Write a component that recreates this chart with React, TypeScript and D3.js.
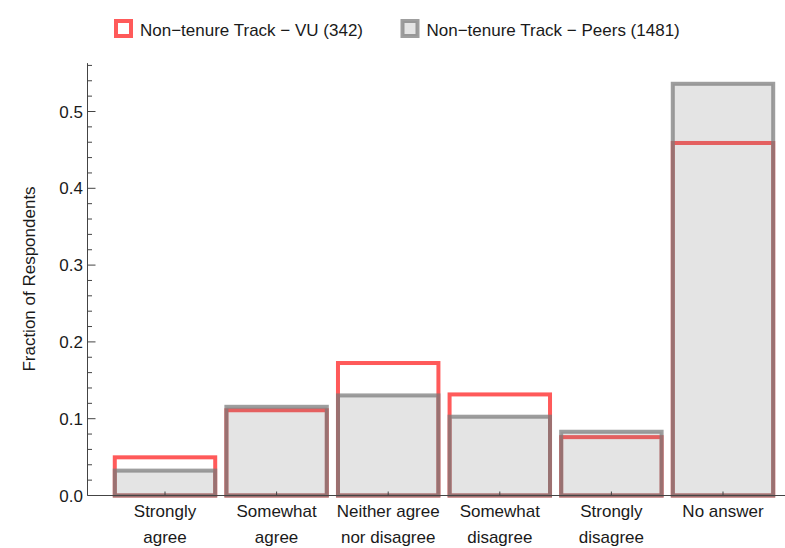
import React from "react";
import * as d3 from "d3";

const categories = [
  ["Strongly", "agree"],
  ["Somewhat", "agree"],
  ["Neither agree", "nor disagree"],
  ["Somewhat", "disagree"],
  ["Strongly", "disagree"],
  ["No answer"],
];
const vuValues = [0.0497, 0.111, 0.1725, 0.1316, 0.076, 0.459];
const peersValues = [0.0324, 0.1155, 0.1303, 0.1026, 0.083, 0.5361];
const seriesNames = ["Non\u2212tenure Track \u2212 VU (342)", "Non\u2212tenure Track \u2212 Peers (1481)"];
const majorTicks = [0, 0.1, 0.2, 0.3, 0.4, 0.5];
const yLabel = "Fraction of Respondents";

const W = 785;
const H = 548;
const FONT = "'Liberation Sans', Arial, sans-serif";
const FS = 17;

export default function App() {
  const keys = categories.map((c) => c.join(" "));
  const x = d3
    .scaleBand<string>()
    .domain(keys)
    .range([109.2, 778.8])
    .paddingInner(0.1)
    .paddingOuter(0.05);
  const y = d3.scaleLinear().domain([0, 0.5]).range([495.5, 111.5]);
  const axisX = 87.5;
  const minor = d3.range(0, 0.5601, 0.02).filter((v) => Math.abs(v * 10 - Math.round(v * 10)) > 1e-6);
  const redStroke = "rgb(255,90,90)";
  const grayFill = "rgba(120,120,120,0.2)";
  const grayStroke = "rgba(120,120,120,0.72)";
  const sw = 4;

  return (
    <svg
      width={W}
      height={H}
      style={{ position: "absolute", left: 0, top: 0, background: "#fff" }}
      fontFamily={FONT}
    >
      {/* legend */}
      <rect x={116} y={21} width={15} height={15} fill="#fff" stroke={redStroke} strokeWidth={sw} />
      <text x={140} y={36} fontSize={FS} fill="#1a1a1a">{seriesNames[0]}</text>
      <rect x={402.5} y={21} width={15} height={15} fill={grayFill} stroke={grayStroke} strokeWidth={sw} />
      <text x={426.5} y={36} fontSize={FS} fill="#1a1a1a">{seriesNames[1]}</text>

      {/* VU bars */}
      {keys.map((k, i) => (
        <rect
          key={"vu" + i}
          x={x(k)!}
          y={y(vuValues[i])}
          width={x.bandwidth()}
          height={y(0) - y(vuValues[i])}
          fill="none"
          stroke={redStroke}
          strokeWidth={sw}
        />
      ))}
      {/* Peers bars */}
      {keys.map((k, i) => (
        <rect
          key={"p" + i}
          x={x(k)!}
          y={y(peersValues[i])}
          width={x.bandwidth()}
          height={y(0) - y(peersValues[i])}
          fill={grayFill}
          stroke={grayStroke}
          strokeWidth={sw}
        />
      ))}

      {/* y axis */}
      <line x1={axisX} x2={axisX} y1={y(0)} y2={y(0.563)} stroke="#444" strokeWidth={1} />
      {majorTicks.map((t) => (
        <g key={"t" + t}>
          <line x1={axisX} x2={axisX + 8} y1={y(t)} y2={y(t)} stroke="#444" />
          <text x={axisX - 4.5} y={y(t) + 6} fontSize={FS} textAnchor="end" fill="#1a1a1a">
            {t.toFixed(1)}
          </text>
        </g>
      ))}
      {minor.map((t) => (
        <line key={"m" + t} x1={axisX} x2={axisX + 4.5} y1={y(t)} y2={y(t)} stroke="#444" />
      ))}
      <text
        transform={`translate(35,279) rotate(-90)`}
        fontSize={FS}
        textAnchor="middle"
        fill="#1a1a1a"
      >
        {yLabel}
      </text>

      {/* x axis */}
      <line x1={axisX} x2={W} y1={y(0)} y2={y(0)} stroke="#444" strokeWidth={1} />
      {categories.map((c, i) => {
        const cx = x(keys[i])! + x.bandwidth() / 2;
        return (
          <g key={"x" + i}>
            <line x1={cx} x2={cx} y1={y(0)} y2={y(0) - 4} stroke="#444" />
            {c.map((line, j) => (
              <text key={j} x={cx} y={517 + j * 26} fontSize={FS} textAnchor="middle" fill="#1a1a1a">
                {line}
              </text>
            ))}
          </g>
        );
      })}
    </svg>
  );
}
